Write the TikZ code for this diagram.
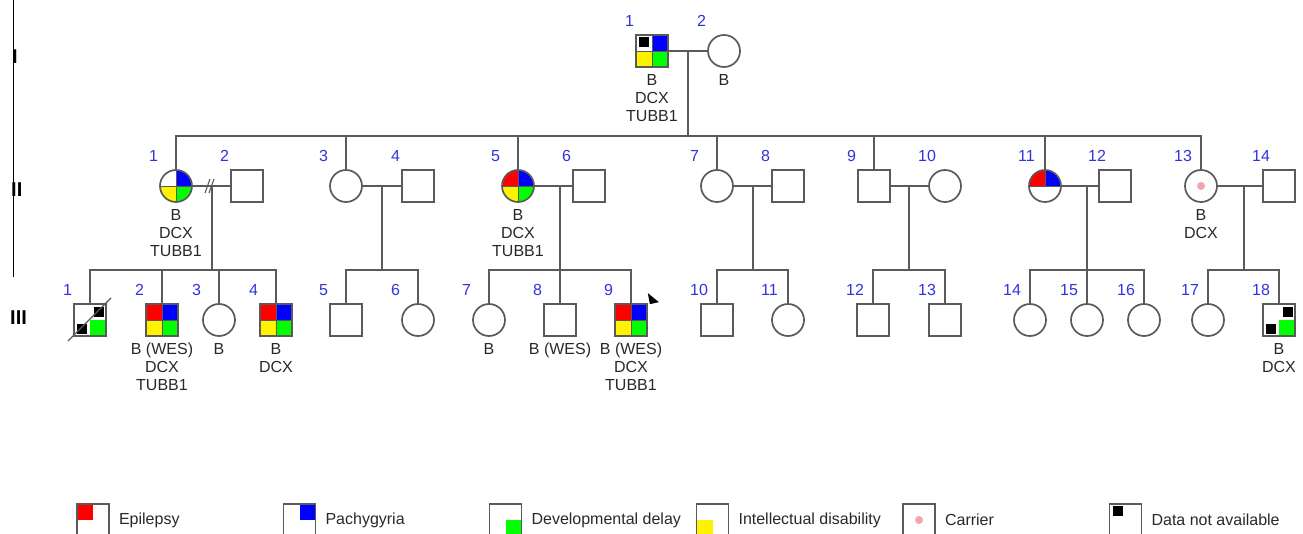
\documentclass[tikz,border=0pt]{standalone}
\usepackage{fontspec}
\setmainfont{Liberation Sans}
\usetikzlibrary{positioning,calc}

\definecolor{linegray}{RGB}{90,90,90}
\definecolor{numblue}{RGB}{50,50,220}
\definecolor{txtgray}{RGB}{40,40,40}
\definecolor{carrierpink}{RGB}{245,165,175}

\begin{document}
\begin{tikzpicture}[
    x=1pt,y=-1pt,
    rel/.style={draw=linegray,line width=1.9pt},
    male/.style={draw=linegray,line width=1.7pt,fill=white,rectangle,minimum size=32pt,inner sep=0pt},
    female/.style={male,circle},
    quad/.style n args={5}{path picture={
        \fill[#1] (path picture bounding box.center) rectangle (path picture bounding box.north west);
        \fill[#2] (path picture bounding box.center) rectangle (path picture bounding box.north east);
        \fill[#3] (path picture bounding box.center) rectangle (path picture bounding box.south west);
        \fill[#4] (path picture bounding box.center) rectangle (path picture bounding box.south east);
        \draw[draw=#5,line width=0.6pt] (path picture bounding box.north) -- (path picture bounding box.south)
          (path picture bounding box.west) -- (path picture bounding box.east);}},
    halfquad/.style 2 args={path picture={
        \fill[#1] (path picture bounding box.center) rectangle (path picture bounding box.north west);
        \fill[#2] (path picture bounding box.center) rectangle (path picture bounding box.north east);
        \draw[linegray,line width=0.6pt] (path picture bounding box.west) -- (path picture bounding box.east)
          (path picture bounding box.north) -- (path picture bounding box.center);}},
    num/.style={text=numblue,anchor=west,inner sep=0pt,font=\fontsize{16}{16}\selectfont},
    info/.style={text=txtgray,align=center,inner sep=0pt,font=\fontsize{16}{18}\selectfont},
    gen/.style={anchor=west,inner sep=0pt,font=\fontsize{20}{20}\selectfont\bfseries},
    legtext/.style={text=txtgray,inner sep=0pt,font=\fontsize{16}{16}\selectfont},
    nd/.style={fill=black}
  ]
    \useasboundingbox (0,0) rectangle (1303,534);

    % generation labels
    \coordinate (bar-top) at (13,0);
    \coordinate (bar-bot) at (13,277);
    \draw[line width=1pt] (bar-top) -- (bar-bot);
    \node[gen] (g-I) at (12,57) {I};
    \node[gen] (g-II) at (11,190) {II};
    \node[gen] (g-III) at (10,318) {III};

    % generation I
    \node[male,quad={white}{blue}{yellow}{green}{linegray}] (I1) at (652,51) {};
    \node[female] (I2) at (724,51) {};

    % generation II
    \node[female,quad={white}{blue}{yellow}{green}{linegray}] (II1) at (176,186) {};
    \node[male] (II2) at (247,186) {};
    \node[female] (II3) at (346,186) {};
    \node[male] (II4) at (418,186) {};
    \node[female,quad={red}{blue}{yellow}{green}{linegray}] (II5) at (518,186) {};
    \node[male] (II6) at (589,186) {};
    \node[female] (II7) at (717,186) {};
    \node[male] (II8) at (788,186) {};
    \node[male] (II9) at (874,186) {};
    \node[female] (II10) at (945,186) {};
    \node[female,halfquad={red}{blue}] (II11) at (1045,186) {};
    \node[male] (II12) at (1115,186) {};
    \node[female] (II13) at (1201,186) {};
    \node[male] (II14) at (1279,186) {};

    % generation III
    \node[male,quad={white}{white}{white}{green}{none}] (III1) at (90,320) {};
    \node[male,quad={red}{blue}{yellow}{green}{linegray}] (III2) at (162,320) {};
    \node[female] (III3) at (219,320) {};
    \node[male,quad={red}{blue}{yellow}{green}{linegray}] (III4) at (276,320) {};
    \node[male] (III5) at (346,320) {};
    \node[female] (III6) at (418,320) {};
    \node[female] (III7) at (489,320) {};
    \node[male] (III8) at (560,320) {};
    \node[male,quad={red}{blue}{yellow}{green}{linegray}] (III9) at (631,320) {};
    \node[male] (III10) at (717,320) {};
    \node[female] (III11) at (788,320) {};
    \node[male] (III12) at (873,320) {};
    \node[male] (III13) at (945,320) {};
    \node[female] (III14) at (1030,320) {};
    \node[female] (III15) at (1087,320) {};
    \node[female] (III16) at (1144,320) {};
    \node[female] (III17) at (1208,320) {};
    \node[male,quad={white}{white}{white}{green}{none}] (III18) at (1279,320) {};

    % marks
    \fill[nd] ($(I1)+(-13,-14)$) rectangle ++(10,10);
    \fill[nd] ($(III1)+(4,-13)$) rectangle ++(10,10);
    \fill[nd] ($(III1)+(-13,4)$) rectangle ++(10,10);
    \fill[nd] ($(III18)+(4,-13)$) rectangle ++(10,10);
    \fill[nd] ($(III18)+(-13,4)$) rectangle ++(10,10);
    \draw[rel,line width=1.3pt] ($(III1)+(-22,21)$) -- ($(III1)+(21,-22)$);
    \fill[carrierpink] (II13) circle (4);
    \fill ($(III9.north east)+(0,-10)$) -- ++(11,9) -- ++(-9,2) -- cycle;

    % numbers
    \foreach \p/\n in {I1/1,I2/2,II1/1,II2/2,II3/3,II4/4,II5/5,II6/6,II7/7,II8/8,II9/9,
        II10/10,II11/11,II12/12,II13/13,II14/14,III1/1,III2/2,III3/3,III4/4,III5/5,III6/6,
        III7/7,III8/8,III9/9,III10/10,III11/11,III12/12,III13/13,III14/14,III15/15,
        III16/16,III17/17,III18/18}
      \node[num] (n-\p) at ($(\p)+(-27,-30)$) {\n};

    % test results
    \node[info,below=6pt of I1] (t-I1) {B\\DCX\\TUBB1};
    \node[info,below=6pt of I2] (t-I2) {B};
    \node[info,below=6pt of II1] (t-II1) {B\\DCX\\TUBB1};
    \node[info,below=6pt of II5] (t-II5) {B\\DCX\\TUBB1};
    \node[info,below=6pt of II13] (t-II13) {B\\DCX};
    \node[info,below=6pt of III2] (t-III2) {B (WES)\\DCX\\TUBB1};
    \node[info,below=6pt of III3] (t-III3) {B};
    \node[info,below=6pt of III4] (t-III4) {B\\DCX};
    \node[info,below=6pt of III7] (t-III7) {B};
    \node[info,below=6pt of III8] (t-III8) {B (WES)};
    \node[info,below=6pt of III9] (t-III9) {B (WES)\\DCX\\TUBB1};
    \node[info,below=6pt of III18] (t-III18) {B\\DCX};

    % generation I to II
    \draw[rel] (I1) -- (I2);
    \coordinate (mI) at ($(I1)!0.5!(I2)$);
    \coordinate (sI) at ($(mI)+(0,85)$);
    \draw[rel] (mI) -- (sI);
    \draw[rel] (II1.north) |- (sI) -| (II13.north);
    \foreach \k in {II3,II5,II7,II9,II11}
      \draw[rel] (\k.north) -- (\k.north |- sI);

    % couples of generation II
    \foreach \a/\b in {II1/II2,II3/II4,II5/II6,II7/II8,II9/II10,II11/II12,II13/II14}
      \draw[rel] (\a) -- (\b);
    \draw[rel,line width=1.1pt] (205,193) -- (210,179) (209,193) -- (214,179);

    \coordinate (mA) at (212,186);
    \coordinate (sA) at ($(mA)+(0,84)$);
    \draw[rel] (mA) -- (sA);
    \draw[rel] (III1.north) |- (sA) -| (III4.north);
    \foreach \k in {III2,III3}
      \draw[rel] (\k.north) -- (\k.north |- sA);

    \coordinate (mB) at ($(II3)!0.5!(II4)$);
    \coordinate (sB) at ($(mB)+(0,84)$);
    \draw[rel] (mB) -- (sB);
    \draw[rel] (III5.north) |- (sB) -| (III6.north);

    \coordinate (mC) at (III8 |- II5);
    \coordinate (sC) at ($(mC)+(0,84)$);
    \draw[rel] (mC) -- (III8.north);
    \draw[rel] (III7.north) |- (sC) -| (III9.north);

    \coordinate (mD) at (753,186);
    \coordinate (sD) at ($(mD)+(0,84)$);
    \draw[rel] (mD) -- (sD);
    \draw[rel] (III10.north) |- (sD) -| (III11.north);

    \coordinate (mE) at (909,186);
    \coordinate (sE) at ($(mE)+(0,84)$);
    \draw[rel] (mE) -- (sE);
    \draw[rel] (III12.north) |- (sE) -| (III13.north);

    \coordinate (mF) at (III15 |- II11);
    \coordinate (sF) at ($(mF)+(0,84)$);
    \draw[rel] (mF) -- (III15.north);
    \draw[rel] (III14.north) |- (sF) -| (III16.north);

    \coordinate (mG) at (1244,186);
    \coordinate (sG) at ($(mG)+(0,84)$);
    \draw[rel] (mG) -- (sG);
    \draw[rel] (III17.north) |- (sG) -| (III18.north);

    % legend
    \node[male,quad={red}{white}{white}{white}{none}] (lg-epi) at (93,520) {};
    \node[male,quad={white}{blue}{white}{white}{none}] (lg-pachy) at (299.5,520) {};
    \node[male,quad={white}{white}{white}{green}{none}] (lg-dd) at (505.5,520) {};
    \node[male,quad={white}{white}{yellow}{white}{none}] (lg-id) at (712.5,520) {};
    \node[male] (lg-car) at (919,520) {};
    \node[male] (lg-na) at (1125.5,520) {};
    \fill[carrierpink] (lg-car) circle (4);
    \fill[nd] ($(lg-na)+(-13,-14)$) rectangle ++(10,10);
    \node[legtext,right=9pt of lg-epi] (lt-epi) {Epilepsy};
    \node[legtext,right=9pt of lg-pachy] (lt-pachy) {Pachygyria};
    \node[legtext,right=9pt of lg-dd] (lt-dd) {Developmental delay};
    \node[legtext,right=9pt of lg-id] (lt-id) {Intellectual disability};
    \node[legtext,right=9pt of lg-car] (lt-car) {Carrier};
    \node[legtext,right=9pt of lg-na] (lt-na) {Data not available};
  \end{tikzpicture}
\end{document}
